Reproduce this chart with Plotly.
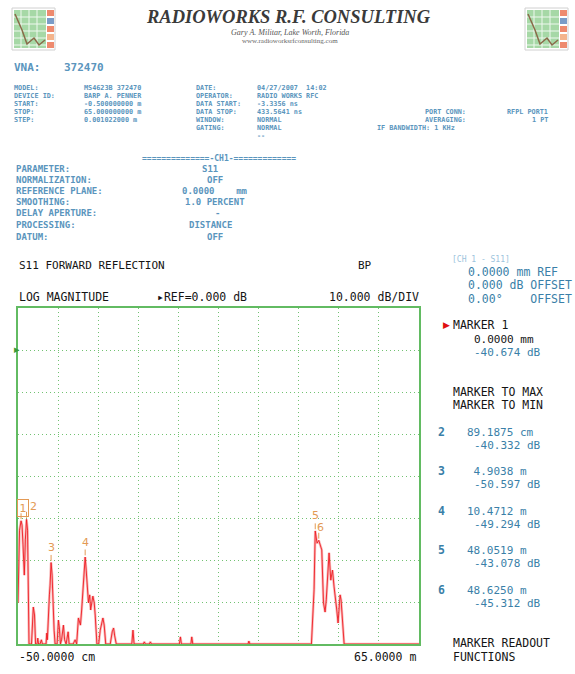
import plotly.graph_objects as go

# ---------------------------------------------------------------- data
# S11 time-domain (distance) response, dB vs metres
dist_m = [-0.5, -0.25, 0.0, 0.16, 0.32, 0.53, 0.70, 0.891875, 1.06, 1.19, 1.30, 1.71,
          2.0, 2.2, 2.37, 2.61, 2.73, 2.86, 3.1, 3.32, 3.48, 4.08, 4.2, 4.3, 4.46,
          4.63, 4.74, 4.9038, 5.07, 5.23, 5.40, 5.56, 5.89, 6.10, 6.26, 6.43, 6.62,
          6.92, 7.11, 7.36, 7.69, 7.85, 8.51, 8.83, 9.08, 9.37, 9.57, 9.70, 9.90,
          10.14, 10.4712, 10.64, 10.80, 11.01, 11.21, 11.37, 11.73, 11.95, 12.11,
          12.39, 12.68, 12.93, 13.37, 13.58, 13.83, 14.57, 14.89, 15.11, 15.30,
          15.55, 18.09, 18.28, 18.46, 19.97, 20.13, 20.30, 20.96, 21.12, 21.29,
          25.86, 26.03, 26.19, 27.75, 27.88, 28.05, 37.08, 37.21, 37.37, 47.43,
          47.86, 48.0519, 48.35, 48.625, 49.12, 49.40, 49.66, 49.85, 50.05, 50.31,
          50.59, 50.87, 51.13, 51.41, 51.57, 51.78, 52.11, 52.27, 52.39, 52.56,
          52.77, 65.0]
level_db = [-60.2, -42.9, -40.674, -41.7, -46.4, -53.6, -45.2, -40.332, -42.9, -59.5, -70, -70,
            -61.2, -63.1, -70, -70, -68.6, -70, -70, -69.0, -70, -70, -67.4, -69.0, -61.9,
            -58.3, -56.0, -50.597, -53.6, -61.9, -66.7, -70, -70, -64.3, -66.2, -70, -69.0,
            -65.5, -69.0, -70, -67.1, -70, -70, -69.0, -70, -63.8, -64.8, -65.5, -61.9,
            -56.0, -49.294, -52.4, -57.1, -60.2, -58.3, -61.9, -58.6, -60.2, -63.1,
            -70, -70, -66.7, -63.8, -65.5, -70, -70, -67.1, -66.2, -68.1,
            -70, -70, -66.7, -70, -70, -69.5, -70, -70, -69.5, -70,
            -70, -68.3, -70, -70, -68.3, -70, -70, -69.3, -70, -70,
            -57.1, -43.078, -46.0, -45.312, -47.6, -60.2, -62.4, -59.5, -53.1, -48.3,
            -54.8, -52.4, -56.4, -59.5, -61.9, -65.0, -58.3, -59.5, -61.9, -66.7,
            -70, -70]

marker_ids = [1, 2, 3, 4, 5, 6]
marker_dist_m = [0.0, 0.891875, 4.9038, 10.4712, 48.0519, 48.6250]
marker_db = [-40.674, -40.332, -50.597, -49.294, -43.078, -45.312]

x_start_m, x_stop_m = -0.5, 65.0
ref_db, db_per_div = 0.0, 10.0
n_xdiv, n_ydiv = 10, 8
ref_div_from_top = 1

# ---------------------------------------------------------------- layout helpers
W, H = 575, 674
ML, MR, MT, MB = 18, 156, 308, 30
PW, PH = W - ML - MR, H - MT - MB

MONO = "DejaVu Sans Mono"
BLACK = "#141414"
BLUE = "#3a7fa8"
INFO = "#5a95bd"
GREEN = "#62bb62"
ORANGE = "#e39a55"


def px(x):
    return (x - ML) / PW


def py(y):
    return 1 - (y - MT) / PH


annotations = []
shapes = []


def text(x, y, s, size=11.5, color=BLACK, family=MONO, anchor="left"):
    annotations.append(dict(
        x=px(x), y=py(y), xref="paper", yref="paper",
        text=s.replace(" ", "\u00a0"), showarrow=False,
        xanchor=anchor, yanchor="middle",
        font=dict(size=size, color=color, family=family)))


def rect(x0, y0, x1, y1, fill, line=None):
    shapes.append(dict(type="rect", xref="paper", yref="paper",
                       x0=px(x0), x1=px(x1), y0=py(y1), y1=py(y0),
                       fillcolor=fill, line=dict(width=1 if line else 0, color=line or fill),
                       layer="above"))


def seg(x0, y0, x1, y1, color, width=1):
    shapes.append(dict(type="line", xref="paper", yref="paper",
                       x0=px(x0), x1=px(x1), y0=py(y0), y1=py(y1),
                       line=dict(color=color, width=width), layer="above"))


def fmt_dist(d):
    if abs(d) < 0.01:
        return f"{d * 1000:.4f}", "mm"
    if abs(d) < 1:
        return f"{d * 100:.4f}", "cm"
    return f"{d:.4f}", "m"


# ---------------------------------------------------------------- figure
fig = go.Figure()

# soft halo + bright core for the trace
fig.add_trace(go.Scatter(x=dist_m, y=level_db, mode="lines",
                         line=dict(color="rgba(245,140,140,0.6)", width=2.6),
                         hoverinfo="skip", showlegend=False))
fig.add_trace(go.Scatter(x=dist_m, y=level_db, mode="lines",
                         line=dict(color="#ee1c22", width=0.9),
                         hoverinfo="skip", showlegend=False))

# marker ticks just above each marker position
tick_x, tick_y = [], []
for d, v in zip(marker_dist_m, marker_db):
    tick_x += [d, d, None]
    tick_y += [v + 0.4, v + 1.8, None]
fig.add_trace(go.Scatter(x=tick_x, y=tick_y, mode="lines",
                         line=dict(color=ORANGE, width=1),
                         hoverinfo="skip", showlegend=False))

# marker numbers
for mid, d, v in zip(marker_ids, marker_dist_m, marker_db):
    a = dict(x=d, y=v, xref="x", yref="y", text=str(mid), showarrow=False,
             xanchor="center", yanchor="middle", yshift=15,
             font=dict(size=11, color=ORANGE, family="DejaVu Sans"))
    if mid == 1:
        a.update(bordercolor=ORANGE, borderwidth=1, borderpad=1.5, yshift=13, xshift=2)
    elif mid == 2:
        a.update(xshift=7, yshift=13)
    elif mid == 6:
        a.update(xshift=2, yshift=13)
    annotations.append(a)

# ---------------------------------------------------------------- header / logos
for lx in (12, 525):
    rect(lx, 8, lx + 43, 50, "#ffffff", "#d0d0d0")
    rect(lx + 2, 10, lx + 34, 48, "#a6d8a6")
    for gy in (17, 24, 31, 38, 45):
        seg(lx + 2, gy, lx + 34, gy, "#eef8ee", 1)
    for gx in (9, 17, 25):
        seg(lx + gx, 10, lx + gx, 48, "#eef8ee", 1)
    shapes.append(dict(type="path", xref="paper", yref="paper", layer="above",
                       path=f"M {px(lx + 3)},{py(14)} L {px(lx + 10)},{py(30)} "
                            f"L {px(lx + 15)},{py(44)} L {px(lx + 22)},{py(38)} "
                            f"L {px(lx + 27)},{py(45)} L {px(lx + 33)},{py(40)}",
                       line=dict(color="#8a6a4a", width=1.5)))
    rect(lx + 35, 10, lx + 42, 16, "#ee8a6e")
    rect(lx + 35, 18, lx + 42, 24, "#7a9cc8")
    rect(lx + 35, 26, lx + 42, 32, "#ee8a6e")
    rect(lx + 35, 34, lx + 42, 40, "#f4b48c")
    rect(lx + 35, 42, lx + 42, 48, "#ee8a6e")

text(288, 17, "<b><i>RADIOWORKS R.F. CONSULTING</i></b>", size=18.5,
     color="#3a3a3a", family="Liberation Serif", anchor="center")
text(290, 32, "<i>Gary A. Militar, Lake Worth, Florida</i>", size=8,
     color="#555555", family="Liberation Serif", anchor="center")
text(290, 41, "www.radioworksrfconsulting.com", size=7,
     color="#666666", family="Liberation Serif", anchor="center")

# ---------------------------------------------------------------- instrument setup block
text(12, 67, "<b>VNA:</b>", size=11, color=INFO)
text(62, 67, "<b>372470</b>", size=11, color=INFO)

INFO_SIZE = 6.8
info_rows = [
    (88, "MODEL:", "MS4623B 372470", "DATE:", "04/27/2007  14:02"),
    (96, "DEVICE ID:", "BARP A. PENNER", "OPERATOR:", "RADIO WORKS RFC"),
    (104, "START:", "-0.500000000 m", "DATA START:", "-3.3356 ns"),
    (112, "STOP:", "65.000000000 m", "DATA STOP:", "433.5641 ns"),
    (120, "STEP:", "0.001022000 m", "WINDOW:", "NORMAL"),
    (128, "", "", "GATING:", "NORMAL"),
    (136, "", "", "", "--"),
]


def info(x, y, s, size=INFO_SIZE):
    text(x, y, f"<b>{s}</b>", size=size, color=INFO)


for y, l1, v1, l2, v2 in info_rows:
    if l1:
        info(12, y, l1)
        info(82, y, v1)
    if l2:
        info(194, y, l2)
    info(255, y, v2)

info(423, 112, "PORT CONN:")
info(505, 112, "RFPL PORT1")
info(423, 120, "AVERAGING:")
info(530, 120, "1 PT")
info(375, 128, "IF BANDWIDTH: 1 KHz")
info(140, 158, "==============-CH1-=============", size=8)

ch_rows = [
    (169, "PARAMETER:", 200, "S11"),
    (180, "NORMALIZATION:", 205, "OFF"),
    (191, "REFERENCE PLANE:", 180, "0.0000    mm"),
    (202, "SMOOTHING:", 183, "1.0 PERCENT"),
    (213, "DELAY APERTURE:", 213, "-"),
    (225, "PROCESSING:", 187, "DISTANCE"),
    (237, "DATUM:", 205, "OFF"),
]
for y, lab, vx, val in ch_rows:
    info(14, y, lab, size=9)
    info(vx, y, val, size=9)

# ---------------------------------------------------------------- plot captions
text(17, 265, "S11 FORWARD REFLECTION", size=11)
text(356, 265, "BP", size=11)
text(17, 297, "LOG MAGNITUDE", size=11.5)
text(155, 297, "\u25b8REF=0.000 dB", size=11.5)
text(327, 297, f"{db_per_div:.3f} dB/DIV", size=11.5)
text(12, 349, "\u25b8", size=11, color="#3a9a3a", family="DejaVu Sans")

text(17, 657, "-50.0000 cm", size=11.5)
text(418, 657, f"{x_stop_m:.4f} m", size=11.5, anchor="right")

# ---------------------------------------------------------------- right-hand readout panel
text(450, 259, "[CH 1 - S11]", size=8, color="#9cc4dd")
text(466, 272, "0.0000 mm REF", size=11.5, color=BLUE)
text(466, 285, "0.000 dB OFFSET", size=11.5, color=BLUE)
text(466, 299, "0.00\u00b0    OFFSET", size=11.5, color=BLUE)

text(441, 325, "\u25b6", size=9, color="#e01010", family="DejaVu Sans")
text(451, 325, f"MARKER {marker_ids[0]}", size=11.5)
num, unit = fmt_dist(marker_dist_m[0])
text(472, 339, f"{num} {unit}", size=11)
text(472, 352, f"{marker_db[0]:.3f} dB", size=11, color=BLUE)

text(451, 392, "MARKER TO MAX", size=11.5)
text(451, 405, "MARKER TO MIN", size=11.5)

row_y = [432, 471, 511, 550, 590]
for y, mid, d, v in zip(row_y, marker_ids[1:], marker_dist_m[1:], marker_db[1:]):
    num, unit = fmt_dist(d)
    text(436, y, f"<b>{mid}</b>", size=11.5, color=BLUE)
    text(465, y, f"{num:>7} {unit}", size=11, color=BLUE)
    text(472, y + 13, f"{v:.3f} dB", size=11, color=BLUE)

text(451, 643, "MARKER READOUT", size=11.5)
text(451, 657, "FUNCTIONS", size=11.5)

# ---------------------------------------------------------------- axes
x_div = (x_stop_m - x_start_m) / n_xdiv
y_top = ref_db + ref_div_from_top * db_per_div
y_bot = y_top - n_ydiv * db_per_div

axis_common = dict(showticklabels=False, ticks="", zeroline=False,
                   showgrid=True, gridcolor="#72c272", griddash="1px,3px", gridwidth=1,
                   showline=True, mirror=True, linecolor=GREEN, linewidth=1.5,
                   layer="below traces", fixedrange=True)

fig.update_xaxes(range=[x_start_m, x_stop_m], tick0=x_start_m, dtick=x_div, **axis_common)
fig.update_yaxes(range=[y_bot, y_top], tick0=y_bot, dtick=db_per_div, **axis_common)

fig.update_layout(
    width=W, height=H,
    margin=dict(l=ML, r=MR, t=MT, b=MB, pad=0),
    paper_bgcolor="white", plot_bgcolor="white",
    annotations=annotations, shapes=shapes,
    showlegend=False,
)

fig.write_html("out.html", config={"displayModeBar": False})
